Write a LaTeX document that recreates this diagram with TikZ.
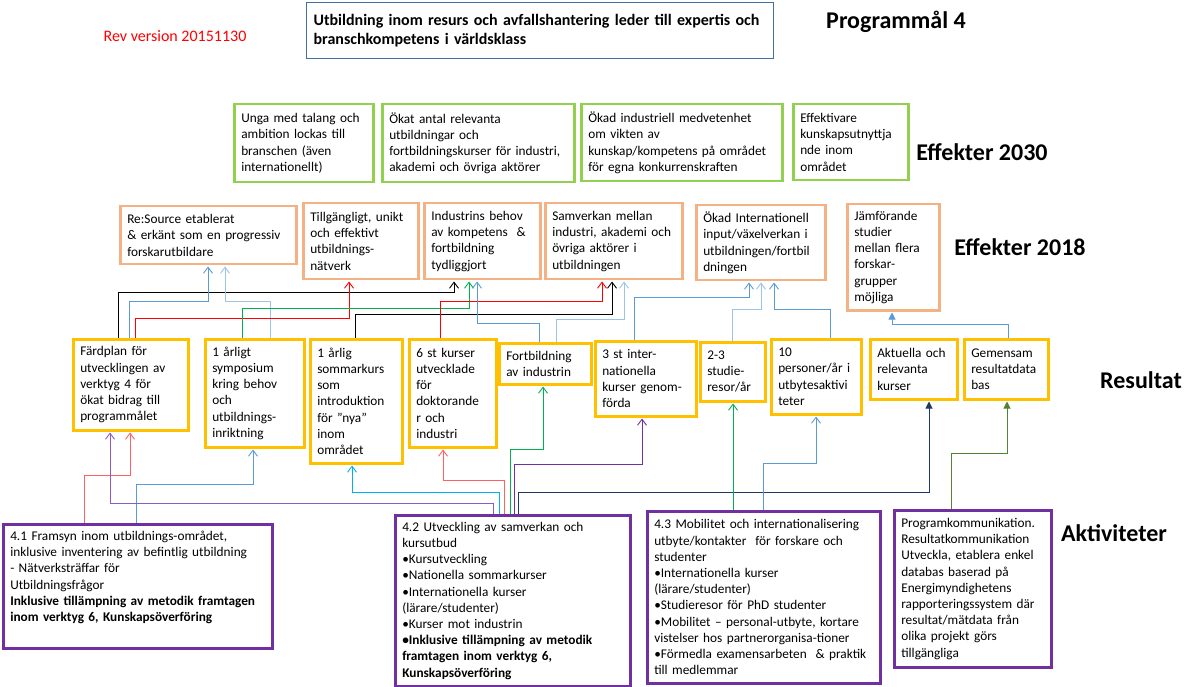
\documentclass[tikz,border=0pt]{standalone}
\usepackage{fontspec}
\setmainfont{Carlito}
\usetikzlibrary{arrows.meta}
\definecolor{effgreen}{HTML}{92D050}
\definecolor{efforange}{HTML}{F4B183}
\definecolor{resyellow}{HTML}{FFC000}
\definecolor{aktpurple}{HTML}{7030A0}
\definecolor{goalblue}{HTML}{41719C}
\definecolor{lnblue}{HTML}{5B9BD5}
\definecolor{lnlblue}{HTML}{9DC3E6}
\definecolor{lnred}{HTML}{FF0000}
\definecolor{lnlred}{HTML}{FF6060}
\definecolor{lngreen}{HTML}{00B050}
\definecolor{lnpurple}{HTML}{7030A0}
\definecolor{lnlpurple}{HTML}{8E5AC8}
\definecolor{lncyan}{HTML}{00B0F0}
\definecolor{lnnavy}{HTML}{203864}
\definecolor{lnolive}{HTML}{548235}
\begin{document}
\begin{tikzpicture}[x=1pt, y=-1pt,
  box/.style = {draw, line width=2.5pt, anchor=north west, align=left,
    inner xsep=7pt, inner ysep=4pt, font=\fontsize{13.3}{16.2}\selectfont},
  goalbox/.style = {box, draw=goalblue, line width=1.2pt,
    font=\fontsize{16}{19.5}\selectfont\bfseries},
  gbox/.style = {box, draw=effgreen},
  obox/.style = {box, draw=efforange},
  ybox/.style = {box, draw=resyellow},
  pbox/.style = {box, draw=aktpurple},
  head/.style = {font=\fontsize{24}{28}\selectfont\bfseries},
  conn/.style = {line width=0.9pt, shorten >=1pt},
  arr/.style = {conn, -{Straight Barb[length=6pt,width=9pt]}},
  farr/.style = {conn, -{Triangle[length=7pt,width=7pt]}}]
\useasboundingbox (0,0) rectangle (1200,687);

% programmaal
\node[goalbox, minimum width=467pt, minimum height=56pt, text width=453pt] (goal) at (306,2)
  {Utbildning inom resurs och avfallshantering leder till expertis och\\branschkompetens i världsklass};
\node[text=red, font=\fontsize{16}{19}\selectfont] (rev) at (175,36) {Rev version 20151130};
\node[head] (prog) at (896,22) {Programmål 4};

% effekter 2030
\node[gbox, minimum width=139pt, minimum height=78pt, text width=125pt] (g1) at (233,103)
  {Unga med talang och\\ambition lockas till\\branschen (även\\internationellt)};
\node[gbox, minimum width=192pt, minimum height=78pt, text width=178pt] (g2) at (381,103)
  {Ökat antal relevanta\\utbildningar och\\fortbildningskurser för industri,\\akademi och övriga aktörer};
\node[gbox, minimum width=201pt, minimum height=77pt, text width=187pt] (g3) at (580,103)
  {Ökad industriell medvetenhet\\om vikten av\\kunskap/kompetens på området\\för egna konkurrenskraften};
\node[gbox, minimum width=115pt, minimum height=76pt, text width=101pt] (g4) at (792,103)
  {Effektivare\\kunskapsutnyttja\\nde inom\\området};
\node[head] (e2030) at (982,152) {Effekter 2030};

% effekter 2018
\node[obox, minimum width=176pt, minimum height=58pt, text width=162pt] (o1) at (119,205)
  {Re:Source etablerat\\\& erkänt som en progressiv\\forskarutbildare};
\node[obox, minimum width=115pt, minimum height=76pt, text width=101pt] (o2) at (302,202)
  {Tillgängligt, unikt\\och effektivt\\utbildnings-\\nätverk};
\node[obox, minimum width=116pt, minimum height=76pt, text width=102pt] (o3) at (423,202)
  {Industrins behov\\av kompetens \ \&\\fortbildning\\tydliggjort};
\node[obox, minimum width=137pt, minimum height=76pt, text width=123pt] (o4) at (544,202)
  {Samverkan mellan\\industri, akademi och\\övriga aktörer i\\utbildningen};
\node[obox, minimum width=129pt, minimum height=75pt, text width=115pt] (o5) at (695,204)
  {Ökad Internationell\\input/växelverkan i\\utbildningen/fortbil\\dningen};
\node[obox, minimum width=92pt, minimum height=106pt, text width=78pt] (o6) at (846,203)
  {Jämförande\\studier\\mellan flera\\forskar-\\grupper\\möjliga};
\node[head] (e2018) at (1020,247) {Effekter 2018};

% resultat
\node[ybox, minimum width=115pt, minimum height=91pt, text width=101pt] (y1) at (72,338)
  {Färdplan för\\utvecklingen av\\verktyg 4 för\\ökat bidrag till\\programmålet};
\node[ybox, minimum width=99pt, minimum height=108pt, text width=85pt] (y2) at (204,338)
  {1 årligt\\symposium\\kring behov\\och\\utbildnings-\\inriktning};
\node[ybox, minimum width=92pt, minimum height=124pt, text width=78pt] (y3) at (309,338)
  {1 årlig\\sommarkurs\\som\\introduktion\\för ”nya”\\inom\\området};
\node[ybox, minimum width=87pt, minimum height=108pt, text width=73pt] (y4) at (408,338)
  {6 st kurser\\utvecklade\\för\\doktorande\\r och\\industri};
\node[ybox, minimum width=92pt, minimum height=41pt, text width=78pt] (y5) at (498,342)
  {Fortbildning\\av industrin};
\node[ybox, minimum width=101pt, minimum height=75pt, text width=87pt] (y6) at (594,340)
  {3 st inter-\\nationella\\kurser genom-\\förda};
\node[ybox, minimum width=65pt, minimum height=59pt, text width=51pt] (y7) at (699,341)
  {2-3\\studie-\\resor/år};
\node[ybox, minimum width=90pt, minimum height=75pt, text width=76pt] (y8) at (770,338)
  {10\\personer/år i\\utbytesaktivi\\teter};
\node[ybox, minimum width=87pt, minimum height=60pt, text width=73pt] (y9) at (869,338)
  {Aktuella och\\relevanta\\kurser};
\node[ybox, minimum width=84pt, minimum height=60pt, text width=70pt] (y10) at (963,338)
  {Gemensam\\resultatdata\\bas};
\node[head] (res) at (1141,380) {Resultat};

% aktiviteter
\node[pbox, minimum width=269pt, minimum height=124pt, text width=255pt] (p1) at (2,523)
  {4.1 Framsyn inom utbildnings-området,\\inklusive inventering av befintlig utbildning\\- Nätverksträffar för\\Utbildningsfrågor\\\textbf{Inklusive tillämpning av metodik framtagen}\\\textbf{inom verktyg 6, Kunskapsöverföring}\rule[-20pt]{0pt}{0pt}};
\node[pbox, minimum width=235pt, minimum height=171pt, text width=221pt] (p2) at (394,514)
  {4.2 Utveckling av samverkan och\\kursutbud\\•Kursutveckling\\•Nationella sommarkurser\\•Internationella kurser\\(lärare/studenter)\\•Kurser mot industrin\\\textbf{•Inklusive tillämpning av metodik}\\\textbf{framtagen inom verktyg 6,}\\\textbf{Kunskapsöverföring}};
\node[pbox, minimum width=233pt, minimum height=172pt, text width=219pt] (p3) at (646,510)
  {4.3 Mobilitet och internationalisering\\utbyte/kontakter \ för forskare och\\studenter\\•Internationella kurser\\(lärare/studenter)\\•Studieresor för PhD studenter\\•Mobilitet – personal-utbyte, kortare\\vistelser hos partnerorganisa-tioner\\•Förmedla examensarbeten \ \& praktik\\till medlemmar};
\node[pbox, minimum width=157pt, minimum height=157pt, text width=143pt] (p4) at (893,509)
  {Programkommunikation.\\Resultatkommunikation\\Utveckla, etablera enkel\\databas baserad på\\Energimyndighetens\\rapporteringssystem där\\resultat/mätdata från\\olika projekt görs\\tillgängliga};
\node[head] (akt) at (1114,533) {Aktiviteter};

% resultat -> effekter 2018
\draw[arr] (118,0 |- y1.north) |- (454,292) -- (454,0 |- o3.south);
\draw[arr, lnblue] (129,0 |- y1.north) |- (208,301) -- (208,0 |- o1.south);
\draw[arr, lnlblue] (270,0 |- y2.north) |- (225,301) -- (225,0 |- o1.south);
\draw[arr, lnred] (135,0 |- y1.north) |- (349,318) -- (349,0 |- o2.south);
\draw[arr, lngreen] (242,0 |- y2.north) |- (469,308) -- (469,0 |- o3.south);
\draw[arr] (355,0 |- y3.north) |- (612,314) -- (612,0 |- o4.south);
\draw[arr, lnred] (440,0 |- y4.north) |- (602,301) -- (602,0 |- o4.south);
\draw[arr, lnblue] (539,0 |- y5.north) |- (477,323) -- (477,0 |- o3.south);
\draw[arr, lnlblue] (556,0 |- y5.north) |- (624,319) -- (624,0 |- o4.south);
\draw[arr, lnblue] (634,0 |- y6.north) |- (749,297) -- (749,0 |- o5.south);
\draw[arr, lnlblue] (732,0 |- y7.north) |- (761,309) -- (761,0 |- o5.south);
\draw[arr, lnblue] (830,0 |- y8.north) |- (774,309) -- (774,0 |- o5.south);
\draw[farr, lnblue] (1008,0 |- y10.north) |- (892,324) -- (892,0 |- o6.south);

% aktiviteter -> resultat
\draw[arr, lnlred] (84,0 |- p1.north) |- (130,475) -- (130,0 |- y1.south);
\draw[arr, lnblue] (136,0 |- p1.north) |- (253,484) -- (253,0 |- y2.south);
\draw[arr, lnlpurple] (493,0 |- p2.north) |- (110,503) -- (110,0 |- y1.south);
\draw[arr, lncyan] (499,0 |- p2.north) |- (352,492) -- (352,0 |- y3.south);
\draw[arr, lnlred] (504,0 |- p2.north) |- (443,480) -- (443,0 |- y4.south);
\draw[arr, lngreen] (510,0 |- p2.north) |- (543,449) -- (543,0 |- y5.south);
\draw[arr, lnpurple] (514,0 |- p2.north) |- (642,464) -- (642,0 |- y6.south);
\draw[farr, lnnavy] (518,0 |- p2.north) |- (929,492) -- (929,0 |- y9.south);
\draw[arr, lngreen] (733,0 |- p3.north) -- (733,0 |- y7.south);
\draw[arr, lnblue] (763,0 |- p3.north) |- (816,463) -- (816,0 |- y8.south);
\draw[farr, lnolive] (951,0 |- p4.north) |- (1007,453) -- (1007,0 |- y10.south);
\end{tikzpicture}
\end{document}
